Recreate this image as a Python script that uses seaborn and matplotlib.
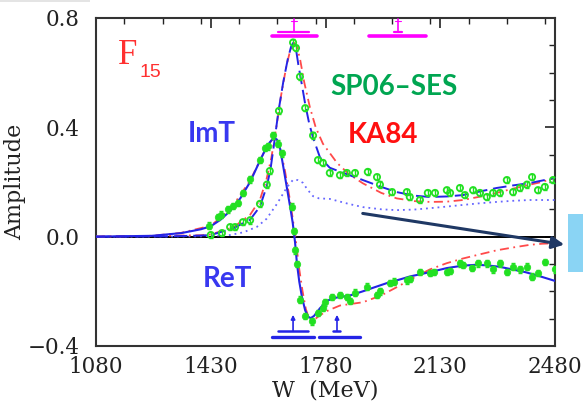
import numpy as np
import pandas as pd
import matplotlib
matplotlib.use("Agg")
import matplotlib.pyplot as plt
from matplotlib.patches import FancyArrowPatch, Rectangle
from matplotlib.ticker import MultipleLocator
import seaborn as sns

# ---------------- data ----------------
# ReT, SP06 solution (solid blue)
ret_sp_W = [1080, 1250, 1340, 1400, 1430, 1460, 1490, 1520, 1550, 1575, 1595, 1610, 1622, 1632,
            1642, 1652, 1662, 1672, 1680, 1687, 1693, 1700, 1708, 1718, 1727, 1735, 1745, 1763,
            1785, 1803, 1830, 1855, 1894, 1930, 1967, 1997, 2040, 2098, 2150, 2199, 2240, 2272,
            2310, 2350, 2390, 2434, 2480]
ret_sp = [0.0, 0.003, 0.013, 0.027, 0.038, 0.062, 0.095, 0.14, 0.20, 0.265, 0.315, 0.345, 0.362, 0.355,
          0.32, 0.25, 0.18, 0.11, 0.05, -0.02, -0.10, -0.165, -0.22, -0.27, -0.293, -0.298, -0.29, -0.262,
          -0.235, -0.225, -0.22, -0.215, -0.2, -0.185, -0.17, -0.16, -0.145, -0.13, -0.115, -0.106, -0.103, -0.105,
          -0.11, -0.12, -0.13, -0.145, -0.162]

# ReT, KA84 (red dash-dot)
ret_ka_W = [1080, 1250, 1340, 1430, 1490, 1550, 1595, 1620, 1640, 1655, 1672, 1687, 1700, 1710, 1720,
            1730, 1745, 1760, 1784, 1824, 1894, 1950, 1997, 2050, 2098, 2150, 2199, 2250, 2302, 2350,
            2403, 2440, 2480]
ret_ka = [0.0, 0.003, 0.014, 0.04, 0.10, 0.205, 0.315, 0.36, 0.33, 0.25, 0.13, 0.01, -0.12, -0.2, -0.265,
          -0.3, -0.305, -0.29, -0.272, -0.252, -0.24, -0.215, -0.185, -0.15, -0.12, -0.097, -0.08, -0.065, -0.05, -0.04,
          -0.03, -0.026, -0.024]

# ImT, SP06 solution (dashed blue)
imt_sp_W = [1080, 1300, 1400, 1430, 1498, 1550, 1580, 1601, 1612, 1622, 1636, 1651, 1665, 1675, 1681,
            1690, 1697, 1708, 1718, 1730, 1742, 1763, 1793, 1830, 1894, 1950, 1997, 2050, 2098, 2150,
            2199, 2250, 2302, 2350, 2403, 2440, 2480]
imt_sp = [0.0, 0.001, 0.004, 0.006, 0.03, 0.062, 0.11, 0.185, 0.245, 0.33, 0.455, 0.565, 0.65, 0.695, 0.708,
          0.685, 0.63, 0.555, 0.485, 0.415, 0.362, 0.29, 0.252, 0.235, 0.207, 0.182, 0.163, 0.15, 0.145, 0.147,
          0.152, 0.165, 0.178, 0.187, 0.196, 0.205, 0.215]

# ImT, KA84 (red dash-dot)
imt_ka_W = [1080, 1400, 1430, 1500, 1550, 1580, 1600, 1615, 1630, 1645, 1660, 1672, 1683, 1693, 1703,
            1715, 1732, 1750, 1772, 1815, 1850, 1894, 1950, 1997, 2050, 2098, 2150, 2199, 2250, 2302,
            2350, 2403, 2440, 2480]
imt_ka = [0.0, 0.005, 0.008, 0.035, 0.08, 0.135, 0.21, 0.29, 0.4, 0.52, 0.62, 0.68, 0.71, 0.695, 0.645,
          0.565, 0.475, 0.40, 0.34, 0.27, 0.23, 0.195, 0.16, 0.14, 0.13, 0.127, 0.128, 0.134, 0.146, 0.16,
          0.175, 0.19, 0.2, 0.215]

# third curve (dotted blue)
dot_W = [1080, 1400, 1489, 1530, 1571, 1600, 1632, 1662, 1681, 1695, 1711, 1725, 1742, 1760, 1793,
         1850, 1894, 1950, 1997, 2050, 2098, 2150, 2199, 2250, 2302, 2350, 2403, 2480]
dot_v = [0.0, 0.001, 0.006, 0.016, 0.036, 0.065, 0.12, 0.18, 0.208, 0.207, 0.197, 0.172, 0.148, 0.14, 0.138,
         0.12, 0.108, 0.1, 0.097, 0.099, 0.104, 0.11, 0.116, 0.122, 0.127, 0.131, 0.134, 0.134]

# single-energy solutions SES: ImT (open) and ReT (filled)
ses_im_W = [1430, 1464, 1489, 1504, 1528, 1550, 1580, 1601, 1610, 1638, 1681, 1690, 1702, 1718, 1742,
            1757, 1772, 1793, 1824, 1845, 1870, 1909, 1937, 1946, 1983, 2028, 2037, 2068, 2092, 2114,
            2150, 2160, 2190, 2205, 2230, 2251, 2272, 2291, 2312, 2333, 2352, 2373, 2394, 2410, 2428,
            2449, 2474]
ses_im = [0.006, 0.013, 0.035, 0.035, 0.053, 0.06, 0.12, 0.19, 0.24, 0.46, 0.71, 0.69, 0.585, 0.47, 0.37,
          0.28, 0.27, 0.233, 0.225, 0.233, 0.233, 0.237, 0.218, 0.19, 0.163, 0.163, 0.145, 0.134, 0.16, 0.16,
          0.17, 0.16, 0.178, 0.152, 0.17, 0.16, 0.145, 0.16, 0.16, 0.207, 0.163, 0.178, 0.19, 0.218, 0.17,
          0.182, 0.207]
ses_im_err = 0.012

ses_re_W = [1425, 1452, 1460, 1483, 1498, 1513, 1528, 1550, 1580, 1595, 1604, 1620, 1635, 1647, 1677,
            1684, 1688, 1693, 1702, 1718, 1738, 1757, 1772, 1778, 1800, 1824, 1845, 1854, 1870, 1906,
            1937, 1946, 1977, 1989, 2028, 2037, 2068, 2098, 2110, 2150, 2160, 2190, 2199, 2226, 2245,
            2272, 2291, 2312, 2333, 2352, 2373, 2394, 2410, 2428, 2449, 2480]
ses_re = [0.04, 0.072, 0.08, 0.10, 0.112, 0.123, 0.16, 0.21, 0.28, 0.325, 0.33, 0.37, 0.34, 0.305, 0.11,
          0.02, -0.05, -0.1, -0.23, -0.29, -0.31, -0.28, -0.26, -0.24, -0.22, -0.213, -0.22, -0.235, -0.205, -0.183,
          -0.213, -0.2, -0.17, -0.165, -0.16, -0.155, -0.13, -0.133, -0.13, -0.13, -0.125, -0.098, -0.104, -0.115, -0.098,
          -0.098, -0.12, -0.098, -0.13, -0.11, -0.12, -0.11, -0.146, -0.133, -0.093, -0.12]
ses_re_err = 0.012

# resonance markers: BW (magenta, top) and pole (blue, bottom)
bw_mass = [1684, 2001]
bw_inner = [(1635, 1730), (1989, 2013)]
bw_outer = [(1617, 1754), (1913, 2086)]
pole_mass = [1681, 1815]
pole_inner = [(1635, 1726), (1803, 1824)]
pole_outer = [(1617, 1745), (1760, 1885)]

x_ticks = [1080, 1430, 1780, 2130, 2480]
y_ticks = [-0.4, 0.0, 0.4, 0.8]

# ---------------- figure ----------------
sns.set_theme(style="white")
plt.rcParams['font.family'] = ['DejaVu Serif']
fig = plt.figure(figsize=(5.83, 4.05), dpi=100)
ax = fig.add_axes([0.1647, 0.1457, 0.7873, 0.81])

BLUE = '#2424e6'
RED = '#ff4a4a'
GREEN = '#22e022'

ax.axhline(0, color='black', lw=1.4, zorder=1)

def line(xw, yv, color, lw, dashes=None):
    sns.lineplot(x=xw, y=yv, ax=ax, color=color, lw=lw, sort=False, estimator=None, zorder=3)
    ln = ax.lines[-1]
    if dashes is not None:
        ln.set_dashes(dashes)
    return ln

line(dot_W, dot_v, '#6666ff', 1.3, (1, 2.2))
line(imt_ka_W, imt_ka, RED, 1.3, (5, 2.5, 1, 2.5))
line(ret_ka_W, ret_ka, RED, 1.3, (5, 2.5, 1, 2.5))
line(imt_sp_W, imt_sp, BLUE, 1.4, (7, 3))
line(ret_sp_W, ret_sp, BLUE, 1.5)

# data points with error bars
ax.errorbar(ses_im_W, ses_im, yerr=ses_im_err, fmt='none', ecolor=GREEN, elinewidth=1.0,
            capsize=1.5, zorder=4)
ax.errorbar(ses_re_W, ses_re, yerr=ses_re_err, fmt='none', ecolor=GREEN, elinewidth=1.0,
            capsize=1.5, zorder=4)
sns.scatterplot(x=ses_im_W, y=ses_im, ax=ax, marker='o', s=20, facecolor='none',
                edgecolor=GREEN, linewidth=1.3, zorder=5)
sns.scatterplot(x=ses_re_W, y=ses_re, ax=ax, marker='o', s=22, color=GREEN,
                edgecolor=GREEN, linewidth=0.5, zorder=5)

# resonance markers
MAG = '#ff00ff'
for m, (a, b), (c, d) in zip(bw_mass, bw_inner, bw_outer):
    ax.plot([m, m], [0.749, 0.797], color=MAG, lw=1.2, zorder=6, clip_on=False)
    ax.plot([m - 8, m + 8], [0.790, 0.790], color=MAG, lw=0.8, zorder=6)
    ax.plot([a, b], [0.749, 0.749], color=MAG, lw=1.6, zorder=6)
    ax.plot([c, d], [0.735, 0.735], color=MAG, lw=2.6, zorder=6)
for m, (a, b), (c, d) in zip(pole_mass, pole_inner, pole_outer):
    ax.annotate('', xy=(m, -0.286), xytext=(m, -0.345),
                arrowprops=dict(arrowstyle='-|>', color=BLUE, lw=1.2, mutation_scale=6,
                                shrinkA=0, shrinkB=0), zorder=6)
    ax.plot([a, b], [-0.345, -0.345], color=BLUE, lw=1.8, zorder=6)
    ax.plot([c, d], [-0.367, -0.367], color=BLUE, lw=2.4, zorder=6)

# axes styling
ax.set_xlim(1080, 2480)
ax.set_ylim(-0.4, 0.8)
ax.set_xticks(x_ticks)
ax.set_xticklabels([str(v) for v in x_ticks])
ax.set_yticks(y_ticks)
ax.set_yticklabels(['\u22120.4', '0.0', '0.4', '0.8'])
ax.xaxis.set_minor_locator(MultipleLocator(350 / 3))
ax.yaxis.set_minor_locator(MultipleLocator(0.1))
ax.tick_params(which='both', direction='in', top=True, right=True, colors='#222222',
               labelcolor='#222222', labelsize=15.5)
ax.tick_params(which='major', length=7, width=1.2)
ax.tick_params(axis='x', which='major', pad=7)
ax.tick_params(axis='y', which='major', pad=12)
ax.tick_params(which='minor', length=4, width=1.0)
for sp in ax.spines.values():
    sp.set_color('#333333')
    sp.set_linewidth(1.5)
ax.set_xlabel('W  (MeV)', fontsize=16, color='#222222', labelpad=1)
ax.set_ylabel('Amplitude', fontsize=16, color='#222222')
ax.yaxis.set_label_coords(-0.152, 0.5)
ax.grid(False)

# annotations
ax.text(1147, 0.632, 'F', fontsize=25, color='#ff3030', family='Liberation Serif',
        ha='left', va='baseline')
ax.text(1213, 0.585, '15', fontsize=14, color='#ff3030', family='Liberation Sans',
        ha='left', va='baseline')
ax.text(1360, 0.345, 'ImT', fontsize=20, color='#3838f0', family='Lato', weight='bold',
        ha='left', va='baseline')
ax.text(1405, -0.184, 'ReT', fontsize=20, color='#3838f0', family='Lato', weight='bold',
        ha='left', va='baseline')
ax.text(1795, 0.517, 'SP06\u2013SES', fontsize=20, color='#00a651', family='Lato', weight='bold',
        ha='left', va='baseline')
ax.text(1847, 0.342, 'KA84', fontsize=20, color='#ff1010', family='Lato', weight='bold',
        ha='left', va='baseline')

# slide decorations (figure coordinates)
fig.add_artist(FancyArrowPatch((360 / 583, 1 - 213 / 405), (567 / 583, 1 - 245 / 405),
                               transform=fig.transFigure, arrowstyle='-|>', mutation_scale=18,
                               color='#1f3864', lw=2.2, zorder=10))
fig.add_artist(Rectangle((568 / 583, 1 - 272 / 405), 15 / 583, 58 / 405,
                         transform=fig.transFigure, facecolor='#8ad4f4', edgecolor='none'))
fig.add_artist(Rectangle((0, 1 - 2 / 405), 90 / 583, 2 / 405,
                         transform=fig.transFigure, facecolor='#e4e4e4', edgecolor='none'))

fig.savefig('out.png', dpi=100)
